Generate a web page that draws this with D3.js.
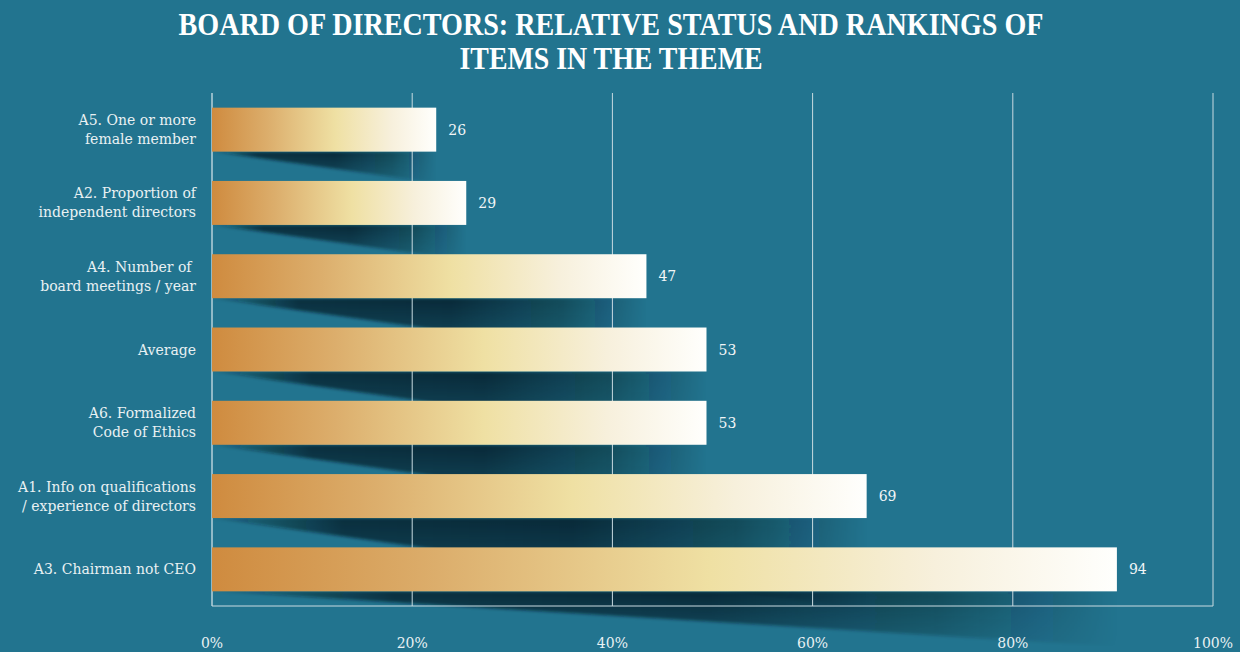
<!DOCTYPE html>
<html>
<head>
<meta charset="utf-8">
<script src="https://cdn.jsdelivr.net/npm/d3@7"></script>
<style>
  html, body { margin: 0; padding: 0; background: #22748f; }
  svg { display: block; }
</style>
</head>
<body>
<div id="vis"></div>
<script>
// data, top to bottom as in the picture
const labels = [
  ['A5. One or more', 'female member'],
  ['A2. Proportion of', 'independent directors'],
  ['A4. Number of ', 'board meetings / year'],
  ['Average'],
  ['A6. Formalized', 'Code of Ethics'],
  ['A1. Info on qualifications', '/ experience of directors'],
  ['A3. Chairman not CEO']
]
const values = [26, 29, 47, 53, 53, 69, 94]
const ticks = [0, 20, 40, 60, 80, 100]
const titleLines = ['BOARD OF DIRECTORS: RELATIVE STATUS AND RANKINGS OF', 'ITEMS IN THE THEME']

// the source bars sit a bit short of their printed values
const barOffset = 3.6

let width = 1240, height = 652
let margin = {left: 212, right: 27, top: 93, bottom: 46}

let svg = d3.select('#vis')
  .append('svg')
  .attr('width', width)
  .attr('height', height)

let defs = svg.append('defs')

let barGrad = defs.append('linearGradient').attr('id', 'barGrad')
barGrad.selectAll('stop')
  .data([[0, '#cf8b3f'], [0.25, '#dcae6c'], [0.55, '#efe0a3'], [0.8, '#f7f0dc'], [1, '#fffffd']])
  .join('stop')
  .attr('offset', d => d[0])
  .attr('stop-color', d => d[1])

let shadowGrad = defs.append('linearGradient').attr('id', 'shadowGrad')
shadowGrad.selectAll('stop')
  .data([[0, 0.1], [0.2, 0.7], [0.55, 0.75], [0.8, 0.45], [1, 0]])
  .join('stop')
  .attr('offset', d => d[0])
  .attr('stop-color', '#02141b')
  .attr('stop-opacity', d => d[1])

// darker right under the bar, lighter further down
let fadeGrad = defs.append('linearGradient').attr('id', 'fadeGrad')
  .attr('x1', 0).attr('y1', 0).attr('x2', 0).attr('y2', 1)
fadeGrad.append('stop').attr('offset', 0).attr('stop-color', 'white').attr('stop-opacity', 1)
fadeGrad.append('stop').attr('offset', 1).attr('stop-color', 'white').attr('stop-opacity', 0.45)
defs.append('mask').attr('id', 'fade')
  .attr('maskContentUnits', 'objectBoundingBox')
  .append('rect').attr('width', 1).attr('height', 1).attr('fill', 'url(#fadeGrad)')

let blur = defs.append('filter').attr('id', 'blur')
  .attr('x', '-10%').attr('y', '-30%').attr('width', '130%').attr('height', '160%')
blur.append('feGaussianBlur').attr('stdDeviation', 1.5)

svg.append('rect').attr('width', width).attr('height', height).attr('fill', '#22748f')

let x = d3.scaleLinear()
  .domain([0, 100])
  .range([margin.left, width - margin.right])

let y = d3.scaleBand()
  .domain(d3.range(values.length))
  .range([margin.top, height - margin.bottom])
  .paddingInner(0.4)
  .paddingOuter(0.2)

let barEnd = v => x(v - barOffset)

// title
svg.append('g')
  .selectAll('text')
  .data(titleLines)
  .join('text')
  .attr('x', 611)
  .attr('y', (d, i) => 35 + i * 34)
  .attr('text-anchor', 'middle')
  .attr('textLength', (d, i) => i == 0 ? 865 : 303)
  .attr('lengthAdjust', 'spacingAndGlyphs')
  .attr('fill', 'white')
  .style('font-family', '"Liberation Serif", serif')
  .style('font-weight', 'bold')
  .style('font-size', '31px')
  .text(d => d)

// shadows
svg.append('g')
  .selectAll('path')
  .data(values)
  .join('path')
  .attr('d', (d, i) => {
    let b = y(i) + y.bandwidth()
    let x0 = x(0), x1 = barEnd(d)
    let len = x1 - x0
    let drop = i < values.length - 1 ? len * 0.14 : 55
    return `M${x0},${b}L${x1},${b}L${x1},${b + drop}Z`
  })
  .attr('fill', 'url(#shadowGrad)')
  .attr('mask', 'url(#fade)')
  .attr('filter', 'url(#blur)')

// grid
svg.append('g')
  .selectAll('line')
  .data(ticks)
  .join('line')
  .attr('x1', d => x(d)).attr('x2', d => x(d))
  .attr('y1', margin.top).attr('y2', height - margin.bottom)
  .attr('stroke', (d, i) => i == 0 ? '#ffffff' : '#c9dbe1')
  .attr('stroke-width', 1)

// axis line
svg.append('line')
  .attr('x1', x(0)).attr('x2', x(100))
  .attr('y1', height - margin.bottom).attr('y2', height - margin.bottom)
  .attr('stroke', '#c9dbe1')

// bars
svg.append('g')
  .selectAll('rect')
  .data(values)
  .join('rect')
  .attr('x', x(0))
  .attr('y', (d, i) => y(i))
  .attr('width', d => barEnd(d) - x(0))
  .attr('height', y.bandwidth())
  .attr('fill', 'url(#barGrad)')

let font = '"DejaVu Serif", serif'

// value labels
svg.append('g')
  .selectAll('text')
  .data(values)
  .join('text')
  .attr('x', d => barEnd(d) + 12)
  .attr('y', (d, i) => y(i) + y.bandwidth() / 2 + 5)
  .attr('fill', '#f2f6f7')
  .style('font-family', font)
  .style('font-size', '14px')
  .text(d => d)

// category labels
svg.append('g')
  .selectAll('text')
  .data(labels)
  .join('text')
  .attr('text-anchor', 'end')
  .attr('fill', '#e9f1f3')
  .style('font-family', font)
  .style('font-size', '14px')
  .each(function(d, i) {
    let cy = y(i) + y.bandwidth() / 2
    let lh = 19
    let start = cy - (d.length - 1) * lh / 2 + 5
    d3.select(this).selectAll('tspan')
      .data(d)
      .join('tspan')
      .attr('x', 196)
      .attr('y', (t, j) => start + j * lh)
      .text(t => t)
  })

// tick labels
svg.append('g')
  .selectAll('text')
  .data(ticks)
  .join('text')
  .attr('x', d => x(d))
  .attr('y', 648)
  .attr('text-anchor', 'middle')
  .attr('fill', '#e9f1f3')
  .style('font-family', font)
  .style('font-size', '14px')
  .text(d => d + '%')
</script>
</body>
</html>
